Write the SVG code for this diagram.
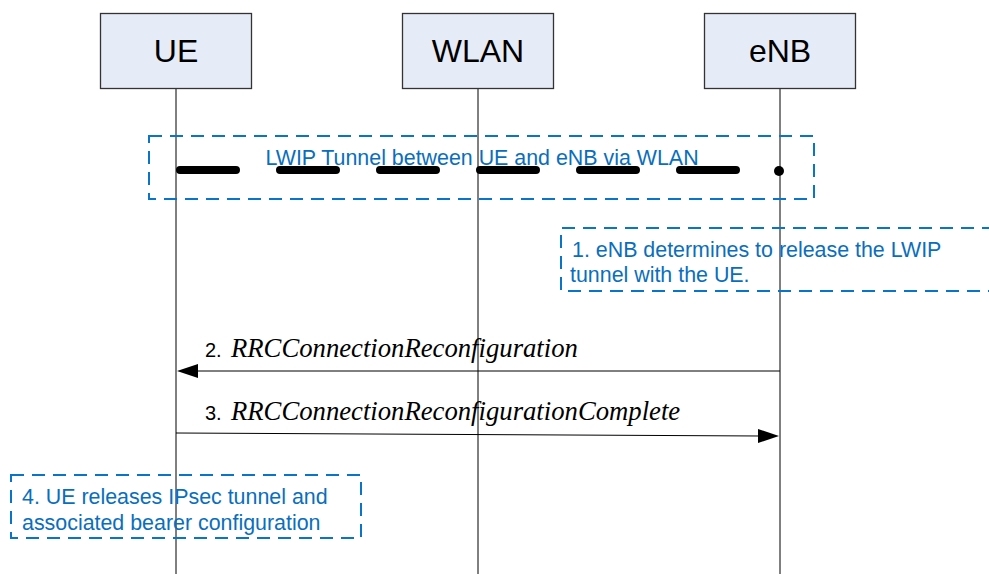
<svg xmlns="http://www.w3.org/2000/svg" width="989" height="574" viewBox="0 0 989 574">
<style>
.node{fill:#E6ECF7;stroke:#333;stroke-width:1.3}
.lbl{font-family:"Liberation Sans",Arial,sans-serif;font-size:32px;fill:#000;text-anchor:middle}
.life{stroke:#000;stroke-width:1}
.note{fill:none;stroke:#0A74C8;stroke-width:2;stroke-dasharray:13 8}
.ntxt{font-family:"Liberation Sans",Arial,sans-serif;font-size:21.4px;fill:#0A6EBD}
.msg{stroke:#000;stroke-width:1;fill:none}
.num{font-family:"Liberation Sans",Arial,sans-serif;font-size:20px;fill:#000}
.it{font-family:"Liberation Serif","Times New Roman",serif;font-style:italic;font-size:26.7px;fill:#000}
</style>
<rect width="989" height="574" fill="#fff"/>
<g id="lifelines">
<line class="life" x1="176" y1="89" x2="176" y2="574"/>
<line class="life" x1="478" y1="88" x2="478" y2="574"/>
<line class="life" x1="780" y1="88" x2="780" y2="574"/>
</g>
<g id="node-ue">
<rect class="node" x="100.5" y="13.5" width="151" height="75"/>
<text class="lbl" x="176" y="62">UE</text>
</g>
<g id="node-wlan">
<rect class="node" x="402.5" y="13.5" width="151" height="75"/>
<text class="lbl" x="478" y="62">WLAN</text>
</g>
<g id="node-enb">
<rect class="node" x="704.5" y="13.5" width="151" height="75"/>
<text class="lbl" x="780" y="62">eNB</text>
</g>
<g id="tunnel">
<rect class="note" x="149" y="136" width="665" height="63"/>
<path d="M180,170 H740" stroke="#000" stroke-width="8" stroke-linecap="round" stroke-dasharray="56 44" fill="none"/>
<circle cx="779" cy="171" r="5" fill="#000"/>
<text class="ntxt" x="482" y="165" text-anchor="middle" font-size="22px">LWIP Tunnel between UE and eNB via WLAN</text>
</g>
<g id="step1">
<path class="note" d="M995,228 H561 V291 H995"/>
<text class="ntxt" x="572" y="257">1. eNB determines to release the LWIP</text>
<text class="ntxt" x="570" y="282">tunnel with the UE.</text>
</g>
<g id="step4">
<rect class="note" x="11" y="475" width="350" height="63"/>
<text class="ntxt" x="22" y="504">4. UE releases IPsec tunnel and</text>
<text class="ntxt" x="22" y="530">associated bearer configuration</text>
</g>
<g id="connectors">
<line class="msg" x1="780" y1="371" x2="196" y2="371"/>
<polygon points="177,371 198,364 198,378" fill="#000"/>
<line class="msg" x1="176" y1="433" x2="760" y2="436"/>
<polygon points="779,436 758,429 758,443" fill="#000"/>
</g>
<g id="labels">
<text y="357"><tspan class="num" x="205">2.</tspan><tspan class="it" x="231">RRCConnectionReconfiguration</tspan></text>
<text y="420"><tspan class="num" x="205">3.</tspan><tspan class="it" x="231">RRCConnectionReconfigurationComplete</tspan></text>
</g>
</svg>
